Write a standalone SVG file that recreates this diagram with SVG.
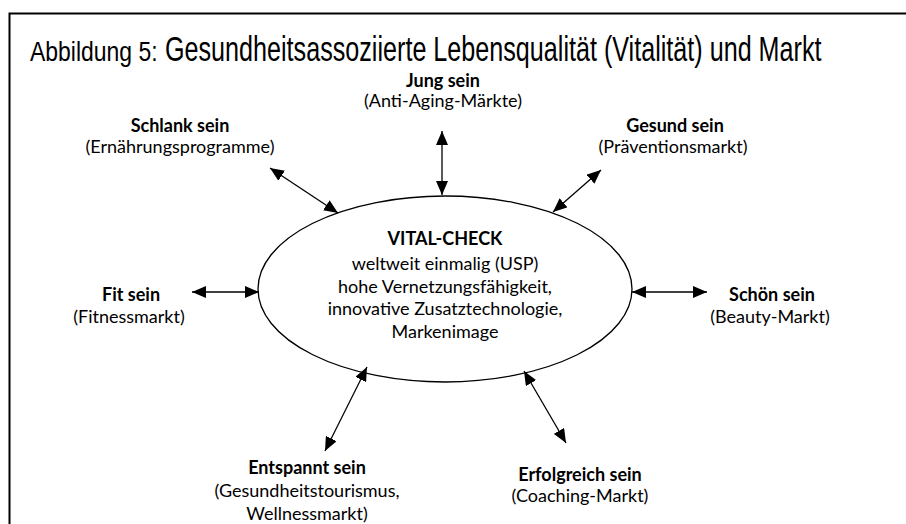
<svg xmlns="http://www.w3.org/2000/svg" width="906" height="524" viewBox="0 0 906 524">
<style>
.t{font-family:Lato,"Noto Sans",sans-serif;font-size:18px;fill:#000;text-anchor:middle}
.b{font-weight:bold}
.ttl{font-family:"Liberation Sans",Arial,sans-serif;fill:#000}
.c{stroke:#000;stroke-width:1.3;fill:none;marker-start:url(#ah);marker-end:url(#ah)}
</style>
<defs>
<marker id="ah" viewBox="0 0 14 12" refX="14" refY="6" markerWidth="14" markerHeight="12" markerUnits="userSpaceOnUse" orient="auto-start-reverse">
<path d="M0,0 L14,6 L0,12 Z" fill="#000"/>
</marker>
</defs>
<rect width="906" height="524" fill="#fff"/>
<path d="M9.5,524 V13.5 H906" fill="none" stroke="#000" stroke-width="2"/>
<g id="title">
<text class="ttl" transform="translate(30,61) scale(0.82,1)" font-size="28">Abbildung 5:</text>
<text class="ttl" transform="translate(165,61) scale(0.7186,1)" font-size="35">Gesundheitsassoziierte Lebensqualität (Vitalität) und Markt</text>
</g>
<g id="center">
<ellipse cx="445" cy="289" rx="187" ry="93" fill="none" stroke="#000" stroke-width="1.3"/>
<text class="t b" x="445" y="245">VITAL-CHECK</text>
<text class="t" x="445" y="270">weltweit einmalig (USP)</text>
<text class="t" x="445" y="293">hohe Vernetzungsfähigkeit,</text>
<text class="t" x="445" y="315">innovative Zusatztechnologie,</text>
<text class="t" x="445" y="338">Markenimage</text>
</g>
<g id="jung"><text class="t b" x="443" y="87">Jung sein</text><text class="t" x="443" y="107">(Anti-Aging-Märkte)</text></g>
<g id="schlank"><text class="t b" x="180" y="132">Schlank sein</text><text class="t" x="180" y="153">(Ernährungsprogramme)</text></g>
<g id="gesund"><text class="t b" x="675" y="132">Gesund sein</text><text class="t" x="673" y="153">(Präventionsmarkt)</text></g>
<g id="fit"><text class="t b" x="131" y="301">Fit sein</text><text class="t" x="129" y="323">(Fitnessmarkt)</text></g>
<g id="schoen"><text class="t b" x="772" y="301">Schön sein</text><text class="t" x="770" y="323">(Beauty-Markt)</text></g>
<g id="entspannt"><text class="t b" x="307" y="474">Entspannt sein</text><text class="t" x="307" y="497">(Gesundheitstourismus,</text><text class="t" x="307" y="520">Wellnessmarkt)</text></g>
<g id="erfolgreich"><text class="t b" x="580" y="481">Erfolgreich sein</text><text class="t" x="580" y="502">(Coaching-Markt)</text></g>
<g id="connectors">
<line class="c" x1="442" y1="131" x2="442" y2="195"/>
<line class="c" x1="270" y1="168" x2="338" y2="213"/>
<line class="c" x1="601" y1="170" x2="553" y2="212"/>
<line class="c" x1="192" y1="292" x2="259" y2="292"/>
<line class="c" x1="632" y1="292" x2="707" y2="292"/>
<line class="c" x1="367" y1="367" x2="325" y2="451"/>
<line class="c" x1="524" y1="371" x2="566" y2="443"/>
</g>
</svg>
